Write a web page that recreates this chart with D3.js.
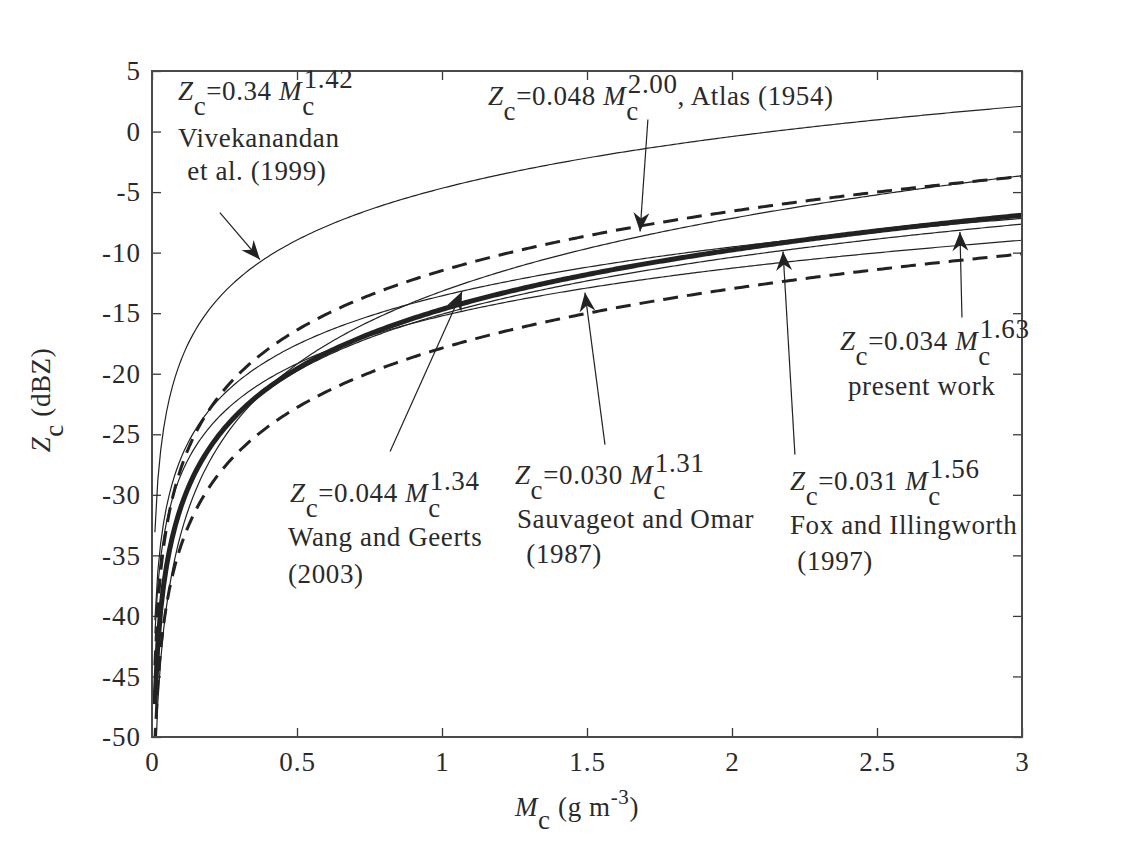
<!DOCTYPE html>
<html><head><meta charset="utf-8">
<script src="https://cdn.jsdelivr.net/npm/d3@7"></script>
<style>
html,body{margin:0;padding:0;background:#fff;}
svg{display:block;}
text{font-family:"Liberation Serif","Times New Roman",serif;fill:#2a2a2a;}
</style></head><body>
<svg id="chart" width="1121" height="843"></svg>
<script>
// ---------------- data ----------------
const relationNames = ["Vivekanandan et al. (1999)", "Atlas (1954)", "Wang and Geerts (2003)",
  "Sauvageot and Omar (1987)", "Fox and Illingworth (1997)", "present work"];
const coefLabels = ["0.34", "0.048", "0.044", "0.030", "0.031", "0.034"];
const expLabels  = ["1.42", "2.00", "1.34", "1.31", "1.56", "1.63"];
const coefA = coefLabels.map(Number);
const expB  = expLabels.map(Number);
const presentIndex = 5;
const bandOffsetDb = [3.2, -3.2];          // dashed envelope around present work (dB)
const mcGrid = d3.range(1, 301).map(i => i / 100);   // Mc = 0.01 ... 3 g m^-3
const xTicks = [0, 0.5, 1, 1.5, 2, 2.5, 3];
const xTickLabels = ["0", "0.5", "1", "1.5", "2", "2.5", "3"];
const yTicks = [-50, -45, -40, -35, -30, -25, -20, -15, -10, -5, 0, 5];
const yTickLabels = ["-50", "-45", "-40", "-35", "-30", "-25", "-20", "-15", "-10", "-5", "0", "5"];

// ---------------- layout ----------------
const L = 152, R = 1022, T = 71, B = 737;
const FS = 27;
const svg = d3.select("#chart");
const x = d3.scaleLinear().domain([0, 3]).range([L, R]);
const y = d3.scaleLinear().domain([-50, 5]).range([B, T]);

const zdb = (a, b, m) => 10 * Math.log10(a * Math.pow(m, b));

svg.append("defs").append("clipPath").attr("id", "plotclip")
  .append("rect").attr("x", L).attr("y", T).attr("width", R - L).attr("height", B - T);

// axes (inward ticks, MATLAB box style)
const tk = 9;
const gx = svg.append("g").attr("transform", `translate(0,${B})`)
  .call(d3.axisBottom(x).tickValues(xTicks).tickFormat((d, i) => xTickLabels[i])
    .tickSizeInner(-tk).tickSizeOuter(0).tickPadding(15));
const gxt = svg.append("g").attr("transform", `translate(0,${T})`)
  .call(d3.axisTop(x).tickValues(xTicks).tickFormat("").tickSizeInner(-tk).tickSizeOuter(0));
const gy = svg.append("g").attr("transform", `translate(${L},0)`)
  .call(d3.axisLeft(y).tickValues(yTicks).tickFormat((d, i) => yTickLabels[i])
    .tickSizeInner(-tk).tickSizeOuter(0).tickPadding(11));
const gyr = svg.append("g").attr("transform", `translate(${R},0)`)
  .call(d3.axisRight(y).tickValues(yTicks).tickFormat("").tickSizeInner(-tk).tickSizeOuter(0));
[gx, gxt, gy, gyr].forEach(g => {
  g.select(".domain").remove();
  g.selectAll(".tick line").attr("stroke", "#3a3a3a").attr("stroke-width", 1.3);
  g.selectAll(".tick text").attr("font-family", '"Liberation Serif",serif')
    .attr("font-size", 27).attr("fill", "#2a2a2a").attr("letter-spacing", 1);
});

// curves
const line = d3.line().x(d => x(d[0])).y(d => y(d[1]));
const plot = svg.append("g").attr("clip-path", "url(#plotclip)");
const series = coefA.map((a, i) => mcGrid.map(m => [m, zdb(a, expB[i], m)]));
series.forEach((s, i) => {
  if (i === presentIndex) return;
  plot.append("path").datum(s).attr("d", line).attr("fill", "none")
    .attr("stroke", "#222").attr("stroke-width", 1.2);
});
bandOffsetDb.forEach(off => {
  plot.append("path").datum(series[presentIndex].map(p => [p[0], p[1] + off]))
    .attr("d", line).attr("fill", "none").attr("stroke", "#222")
    .attr("stroke-width", 3).attr("stroke-dasharray", "15,9");
});
plot.append("path").datum(series[presentIndex]).attr("d", line).attr("fill", "none")
  .attr("stroke", "#222").attr("stroke-width", 5);

// frame
svg.append("rect").attr("x", L).attr("y", T).attr("width", R - L).attr("height", B - T)
  .attr("fill", "none").attr("stroke", "#4a4a4a").attr("stroke-width", 2);

// ---------------- annotations ----------------
function eqLabel(g, px, py, i, suffix) {
  const t = g.append("text").attr("x", px).attr("y", py).attr("font-size", FS).attr("letter-spacing", 0.6);
  t.append("tspan").attr("font-style", "italic").text("Z");
  t.append("tspan").attr("dy", 15).text("c");
  t.append("tspan").attr("dy", -15).text("=" + coefLabels[i] + " ");
  t.append("tspan").attr("font-style", "italic").text("M");
  t.append("tspan").attr("dy", 15).text("c");
  t.append("tspan").attr("dx", -11).attr("dy", -27).text(expLabels[i]);
  if (suffix) t.append("tspan").attr("dy", 12).text(suffix);
}
const annotations = [
  { idx: 0, pos: [0.0897, 2.6], suffix: "", lines: [["Vivekanandan", 0, 47], [" et al. (1999)", 2, 80]],
    arrow: [[0.234, -6.69], [0.372, -10.57]] },
  { idx: 1, pos: [1.1586, 2.19], suffix: ", Atlas (1954)", lines: [],
    arrow: [[1.710, 0.99], [1.683, -8.26]] },
  { idx: 5, pos: [2.3724, -18.04], suffix: "", lines: [["present work", 8, 45]],
    arrow: [[2.793, -15.36], [2.786, -8.3]] },
  { idx: 2, pos: [0.4759, -30.59], suffix: "", lines: [["Wang and Geerts", -2, 44], ["(2003)", -2, 81]],
    arrow: [[0.821, -26.43], [1.069, -13.21]] },
  { idx: 3, pos: [1.2517, -29.11], suffix: "", lines: [["Sauvageot and Omar", 2, 44], [" (1987)", 4, 79]],
    arrow: [[1.562, -25.85], [1.493, -13.3]] },
  { idx: 4, pos: [2.2, -29.6], suffix: "", lines: [["Fox and Illingworth", 0, 44], [" (1997)", 0, 80]],
    arrow: [[2.217, -26.68], [2.176, -9.91]] }
];
const ag = svg.append("g");
function arrow(x0, y0, x1, y1) {
  ag.append("line").attr("x1", x0).attr("y1", y0).attr("x2", x1).attr("y2", y1)
    .attr("stroke", "#222").attr("stroke-width", 1.2);
  const ang = Math.atan2(y1 - y0, x1 - x0);
  const ux = Math.cos(ang), uy = Math.sin(ang), nx = -uy, ny = ux;
  const len = 19, hw = 8, notch = 13;
  const p = [
    [x1, y1],
    [x1 - ux * len + nx * hw, y1 - uy * len + ny * hw],
    [x1 - ux * notch, y1 - uy * notch],
    [x1 - ux * len - nx * hw, y1 - uy * len - ny * hw]
  ];
  ag.append("path").attr("d", "M" + p.map(q => q.join(",")).join("L") + "Z").attr("fill", "#222");
}
annotations.forEach(a => {
  const px = x(a.pos[0]), py = y(a.pos[1]);
  eqLabel(ag, px, py, a.idx, a.suffix);
  a.lines.forEach(l => {
    ag.append("text").attr("x", px + l[1]).attr("y", py + l[2]).attr("font-size", FS)
      .attr("letter-spacing", 0.6).attr("xml:space", "preserve").style("white-space", "pre").text(l[0]);
  });
  arrow(x(a.arrow[0][0]), y(a.arrow[0][1]), x(a.arrow[1][0]), y(a.arrow[1][1]));
});

// axis titles
const xt = svg.append("text").attr("x", 515).attr("y", 816).attr("font-size", FS).attr("letter-spacing", 0.6);
xt.append("tspan").attr("font-style", "italic").text("M");
xt.append("tspan").attr("dy", 13).text("c");
xt.append("tspan").attr("dy", -13).text(" (g m");
xt.append("tspan").attr("dy", -12).attr("font-size", 21).text("-3");
xt.append("tspan").attr("dy", 12).text(")");

const yt = svg.append("text").attr("transform", "translate(50,400) rotate(-90)")
  .attr("text-anchor", "middle").attr("font-size", FS).attr("letter-spacing", 0.6);
yt.append("tspan").attr("font-style", "italic").text("Z");
yt.append("tspan").attr("dy", 13).text("c");
yt.append("tspan").attr("dy", -13).text(" (dBZ)");
</script>
</body></html>
